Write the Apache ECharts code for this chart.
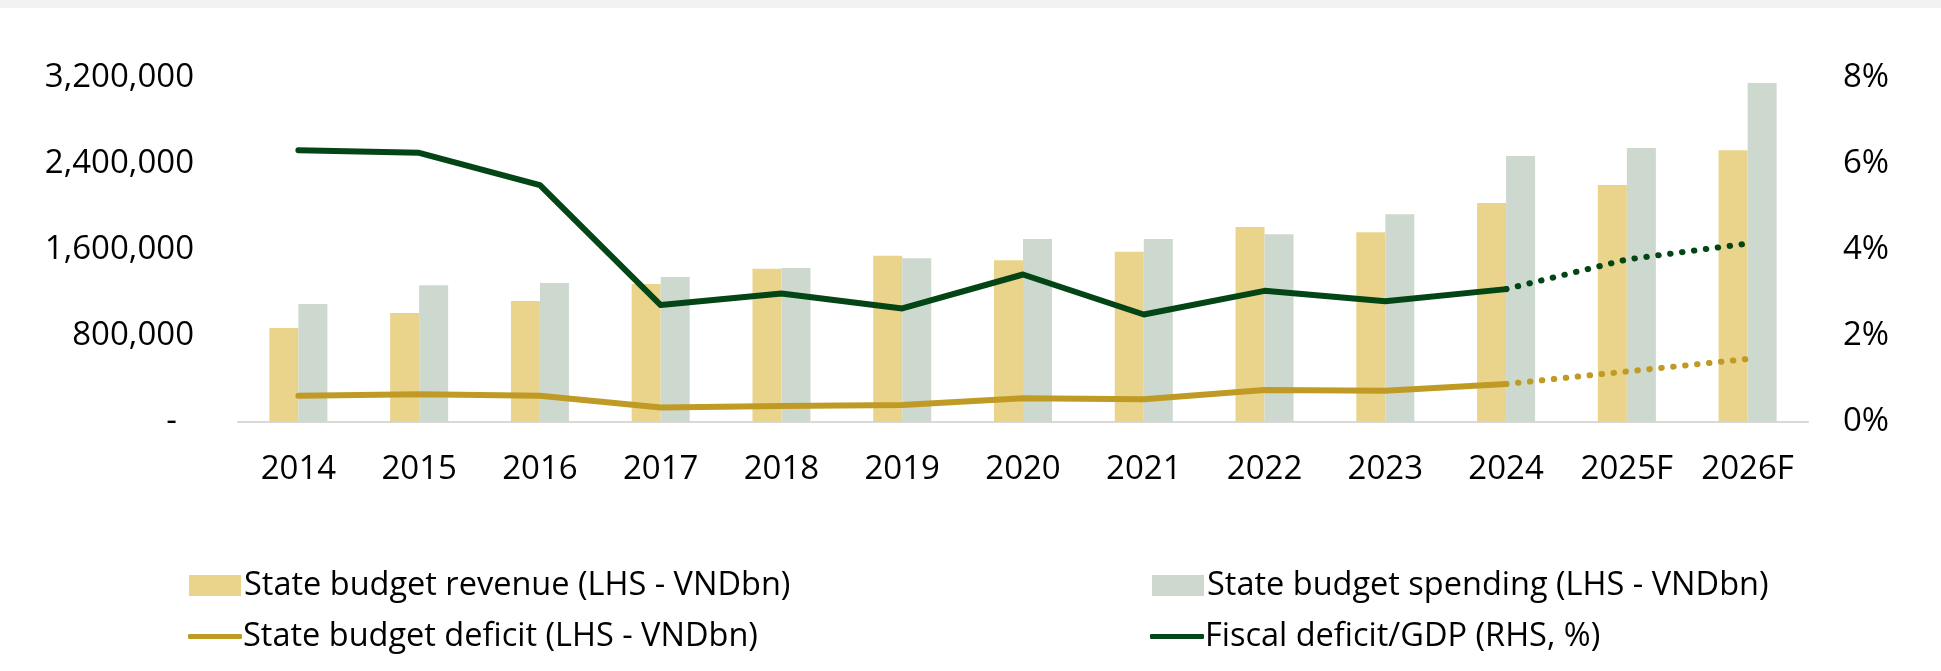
<!DOCTYPE html>
<html>
<head>
<meta charset="utf-8">
<script src="https://cdn.jsdelivr.net/npm/echarts@6/dist/echarts.min.js"></script>
<style>
html,body{margin:0;padding:0;background:#fff;}
#chart{width:1941px;height:671px;}
</style>
</head>
<body>
<div id="chart"></div>
<script>
const categories = ['2014','2015','2016','2017','2018','2019','2020','2021','2022','2023','2024','2025F','2026F'];
const revenue  = [875000, 1014000, 1126000, 1284000, 1426000, 1547000, 1504000, 1584000, 1814000, 1765000, 2037000, 2205000, 2527000];
const spending = [1098000, 1272000, 1293000, 1349000, 1433000, 1523000, 1702000, 1702000, 1746000, 1932000, 2474000, 2549000, 3153000];
const deficitActual = [245000, 258000, 245000, 135000, 149000, 158000, 220000, 211000, 298000, 291000, 353000, '-', '-'];
const deficitForecast = ['-', '-', '-', '-', '-', '-', '-', '-', '-', '-', 353000, 470000, 586000];
const gdpActual = [6.32, 6.26, 5.51, 2.72, 2.99, 2.64, 3.43, 2.50, 3.05, 2.81, 3.09, '-', '-'];
const gdpForecast = ['-', '-', '-', '-', '-', '-', '-', '-', '-', '-', 3.09, 3.78, 4.15];
const leftTicks = [0, 800000, 1600000, 2400000, 3200000];
const rightTicks = [0, 2, 4, 6, 8];

const C_REV = '#EAD48B';
const C_SPD = '#CDD8CF';
const C_DEF = '#BF9B26';
const C_GDP = '#044515';
const AXIS_FONT = "'Open Sans', sans-serif";
const LEG_FONT = "'Open Sans', sans-serif";

const chart = echarts.init(document.getElementById('chart'), null, {renderer:'canvas'});

function legendBox(name, left, top, isLine) {
  return {
    data: [{name: name, icon: isLine ? 'roundRect' : 'rect'}],
    left: left, top: top, padding: 0,
    itemWidth: isLine ? 54 : 52,
    itemHeight: isLine ? 5 : 21,
    selectedMode: false,
    textStyle: {fontFamily: LEG_FONT, fontSize: 32.5, color: '#000', padding: [0,0,0,isLine ? -4 : -2]}
  };
}

const option = {
  backgroundColor: '#fff',
  animation: false,
  graphic: [{type:'rect', left:0, top:0, shape:{width:1941, height:8}, style:{fill:'#F2F2F2'}, silent:true}],
  grid: {left: 238, right: 133, top: 78, bottom: 249},
  legend: [
    legendBox('State budget revenue (LHS - VNDbn)', 189, 569, false),
    legendBox('State budget deficit (LHS - VNDbn)', 188, 620, true),
    legendBox('State budget spending (LHS - VNDbn)', 1152, 569, false),
    legendBox('Fiscal deficit/GDP (RHS, %)', 1150, 620, true)
  ],
  xAxis: {
    type: 'category',
    data: categories,
    axisLine: {show: true, lineStyle: {color: '#D9D9D9', width: 2}},
    axisTick: {show: false},
    axisLabel: {fontFamily: AXIS_FONT, fontSize: 33, color: '#000', margin: 31}
  },
  yAxis: [
    {
      type: 'value', min: leftTicks[0], max: leftTicks[leftTicks.length-1], interval: leftTicks[1]-leftTicks[0],
      splitLine: {show: false}, axisLine: {show: false}, axisTick: {show: false},
      axisLabel: {
        fontFamily: AXIS_FONT, fontSize: 33, color: '#000', margin: 44,
        formatter: function(v){ return v === 0 ? '-  ' : v.toLocaleString('en-US'); }
      }
    },
    {
      type: 'value', min: rightTicks[0], max: rightTicks[rightTicks.length-1], interval: rightTicks[1]-rightTicks[0],
      position: 'right',
      splitLine: {show: false}, axisLine: {show: false}, axisTick: {show: false},
      axisLabel: {fontFamily: AXIS_FONT, fontSize: 33, color: '#000', margin: 35, formatter: '{value}%'}
    }
  ],
  series: [
    {name: 'State budget revenue (LHS - VNDbn)', type: 'bar', data: revenue, barWidth: 29, barGap: '0%',
     itemStyle: {color: C_REV}, yAxisIndex: 0, z: 2},
    {name: 'State budget spending (LHS - VNDbn)', type: 'bar', data: spending, barWidth: 29, barGap: '0%',
     itemStyle: {color: C_SPD}, yAxisIndex: 0, z: 2},
    {name: 'State budget deficit (LHS - VNDbn)', type: 'line', data: deficitActual, yAxisIndex: 0,
     symbol: 'none', lineStyle: {color: C_DEF, width: 6, cap: 'round', join: 'round'}, itemStyle: {color: C_DEF}, z: 5},
    {name: 'deficitF', type: 'line', data: deficitForecast, yAxisIndex: 0,
     symbol: 'none', lineStyle: {color: C_DEF, width: 6, type: [0.5, 11.5], cap: 'round'}, itemStyle: {color: C_DEF}, z: 5},
    {name: 'Fiscal deficit/GDP (RHS, %)', type: 'line', data: gdpActual, yAxisIndex: 1,
     symbol: 'none', lineStyle: {color: C_GDP, width: 6, cap: 'round', join: 'round'}, itemStyle: {color: C_GDP}, z: 6},
    {name: 'gdpF', type: 'line', data: gdpForecast, yAxisIndex: 1,
     symbol: 'none', lineStyle: {color: C_GDP, width: 6, type: [0.5, 11.5], cap: 'round'}, itemStyle: {color: C_GDP}, z: 6}
  ]
};
chart.setOption(option);
</script>
</body>
</html>
